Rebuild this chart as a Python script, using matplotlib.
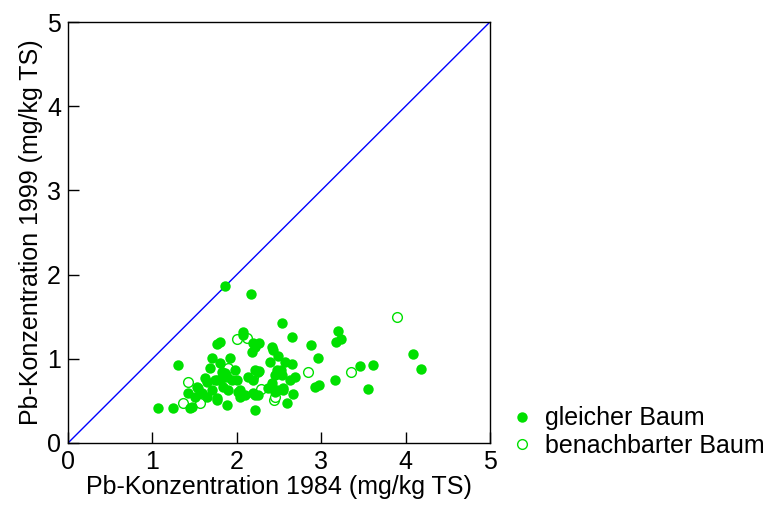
import matplotlib
matplotlib.use("Agg")
import matplotlib.pyplot as plt
import numpy as np

plt.rcParams['font.family'] = ['Liberation Sans', 'DejaVu Sans']

# Pb-Konzentration (mg/kg TS), 1984 vs 1999 - gleicher Baum
same_1984 = [1.86, 2.17, 2.07, 1.77, 2.19, 2.26, 2.54, 2.65, 2.42, 2.88,
             3.20, 3.23, 3.18, 4.09, 4.18, 3.61, 3.46, 3.55, 2.96, 3.16,
             2.93, 2.97, 2.65, 2.69, 2.67, 2.59, 2.49, 2.39, 2.52, 2.45,
             2.42, 2.48, 2.55, 2.25, 2.19, 2.22, 2.26, 1.30, 1.07, 1.24,
             1.45, 1.42, 1.53, 1.65, 1.59, 1.68, 1.71, 1.80, 1.82, 1.71,
             1.77, 1.92, 1.98, 1.88, 1.84, 1.90, 2.00, 2.04, 2.13, 2.19,
             2.22, 2.04, 1.88, 2.18, 1.62, 1.54, 1.77, 1.77, 1.50, 1.47,
             1.65, 2.22, 2.43, 1.80, 1.86, 2.25, 2.48, 2.57, 2.54, 1.74,
             1.82, 1.94, 2.01, 2.10, 2.22, 2.37, 2.55, 2.45, 2.63, 2.07]
same_1999 = [1.86, 1.77, 1.32, 1.18, 1.19, 1.19, 1.43, 1.26, 1.14, 1.16,
             1.33, 1.24, 1.20, 1.06, 0.88, 0.93, 0.91, 0.64, 1.01, 0.75,
             0.67, 0.69, 0.94, 0.78, 0.58, 0.47, 1.03, 0.96, 0.87, 0.81,
             0.71, 0.63, 0.63, 0.57, 0.59, 0.39, 0.86, 0.93, 0.42, 0.42,
             0.42, 0.59, 0.67, 0.72, 0.59, 0.89, 1.01, 1.20, 0.84, 0.63,
             0.51, 1.01, 0.87, 0.78, 0.67, 0.63, 0.75, 0.63, 0.78, 0.75,
             0.87, 0.55, 0.45, 1.08, 0.77, 0.65, 0.75, 0.53, 0.55, 0.43,
             0.55, 1.14, 1.10, 0.95, 0.83, 0.84, 0.87, 0.96, 0.81, 0.75,
             0.77, 0.75, 0.61, 0.57, 0.57, 0.65, 0.65, 0.61, 0.75, 1.28]

# benachbarter Baum
near_1984 = [2.00, 2.12, 3.90, 3.35, 2.84, 2.44, 2.29, 2.19, 1.42, 1.36,
             1.56, 1.90, 2.45]
near_1999 = [1.24, 1.25, 1.50, 0.84, 0.84, 0.51, 0.64, 0.78, 0.72, 0.48,
             0.48, 0.89, 0.55]

green = '#00e000'

fig = plt.figure(figsize=(7.67, 5.09), dpi=100)
ax = fig.add_axes([0.0887, 0.1297, 0.550, 0.827])

ax.plot([0, 5], [0, 5], color='#0000ff', lw=1.0, zorder=1)
ax.plot(same_1984, same_1999, 'o', color=green, markersize=7.5,
        markeredgewidth=0, label='gleicher Baum', zorder=3)
ax.plot(near_1984, near_1999, 'o', markerfacecolor='white',
        markeredgecolor=green, markersize=7, markeredgewidth=1.0,
        label='benachbarter Baum', zorder=2)

ax.set_xlim(0, 5)
ax.set_ylim(0, 5)
ax.set_xticks(range(6))
ax.set_yticks(range(6))
ax.tick_params(direction='in', length=8, width=1, labelsize=18, pad=5)
for s in ax.spines.values():
    s.set_linewidth(1)

ax.set_xlabel('Pb-Konzentration 1984 (mg/kg TS)', fontsize=18, labelpad=1)
ax.set_ylabel('Pb-Konzentration 1999 (mg/kg TS)', fontsize=18, labelpad=3)

leg = ax.legend(loc='lower left', bbox_to_anchor=(0.668, 0.100),
                bbox_transform=fig.transFigure, frameon=False, fontsize=18,
                handlelength=0.8, handletextpad=0.5, labelspacing=0.15,
                borderaxespad=0, borderpad=0)

fig.savefig('out.png', dpi=100)
